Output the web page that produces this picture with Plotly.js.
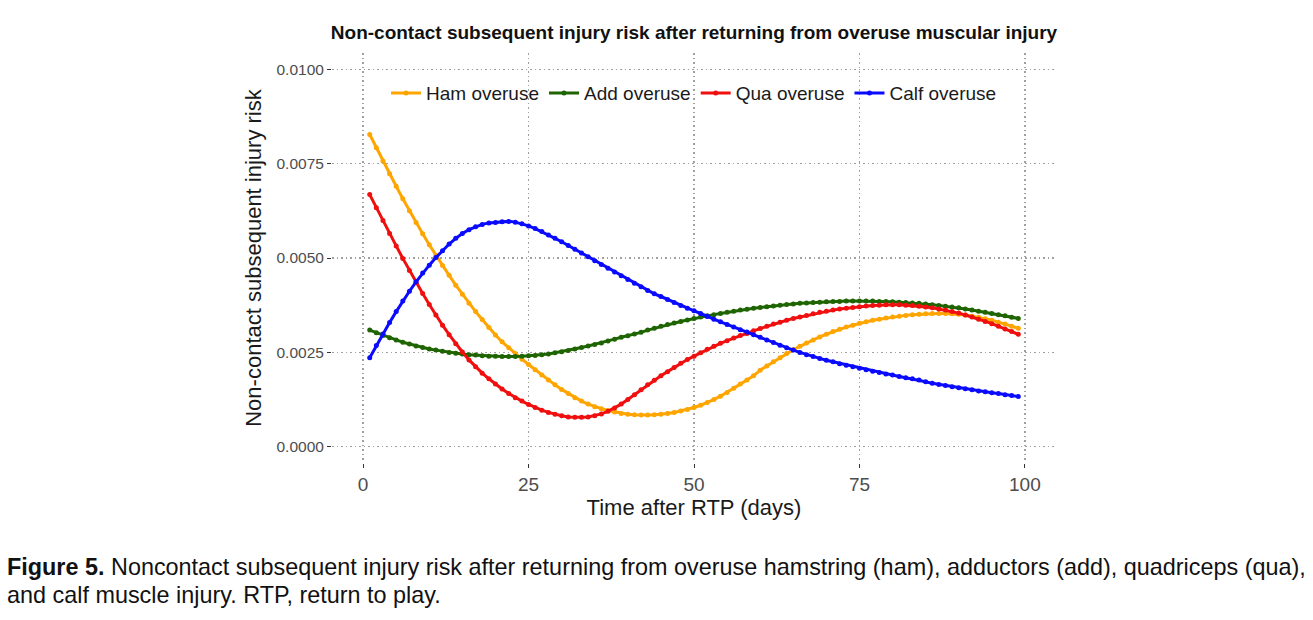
<!DOCTYPE html>
<html>
<head>
<meta charset="utf-8">
<script src="https://cdn.plot.ly/plotly-3.0.1.min.js"></script>
<style>
  html, body { margin: 0; padding: 0; background: #ffffff; }
  #chart { width: 1313px; height: 620px; }
</style>
</head>
<body>
<div id="chart"></div>
<script>
// days after return to play (1..99)
const days = [];
for (let d = 1; d <= 99; d++) { days.push(d); }

// values, one per day
const hamOveruse = [
  0.00827, 0.00792, 0.00757, 0.00723, 0.00690, 0.00657, 0.00625, 0.00594, 0.00564, 0.00535,
  0.00507, 0.00480, 0.00454, 0.00428, 0.00404, 0.00380, 0.00358, 0.00337, 0.00316, 0.00296,
  0.00278, 0.00262, 0.00247, 0.00232, 0.00218, 0.00204, 0.00190, 0.00177, 0.00164, 0.00152,
  0.00141, 0.00130, 0.00121, 0.00113, 0.00106, 0.00101, 0.00096, 0.00092, 0.00088, 0.00086,
  0.00085, 0.00084, 0.00084, 0.00085, 0.00086, 0.00088, 0.00091, 0.00095, 0.00099, 0.00104,
  0.00110, 0.00117, 0.00125, 0.00134, 0.00144, 0.00155, 0.00166, 0.00177, 0.00188, 0.00203,
  0.00214, 0.00225, 0.00236, 0.00247, 0.00257, 0.00266, 0.00275, 0.00283, 0.00291, 0.00298,
  0.00305, 0.00311, 0.00317, 0.00322, 0.00327, 0.00331, 0.00335, 0.00338, 0.00341, 0.00344,
  0.00346, 0.00348, 0.00350, 0.00351, 0.00352, 0.00353, 0.00353, 0.00353, 0.00352, 0.00351,
  0.00349, 0.00346, 0.00343, 0.00339, 0.00335, 0.00330, 0.00325, 0.00319, 0.00314
];

const addOveruse = [
  0.00309, 0.00302, 0.00295, 0.00289, 0.00283, 0.00277, 0.00272, 0.00267, 0.00263, 0.00259,
  0.00256, 0.00253, 0.00250, 0.00248, 0.00246, 0.00244, 0.00243, 0.00241, 0.00240, 0.00240,
  0.00239, 0.00239, 0.00239, 0.00240, 0.00241, 0.00242, 0.00244, 0.00246, 0.00249, 0.00252,
  0.00255, 0.00259, 0.00263, 0.00267, 0.00271, 0.00275, 0.00280, 0.00285, 0.00290, 0.00294,
  0.00299, 0.00303, 0.00309, 0.00314, 0.00319, 0.00324, 0.00328, 0.00332, 0.00336, 0.00340,
  0.00344, 0.00347, 0.00350, 0.00353, 0.00356, 0.00359, 0.00362, 0.00364, 0.00367, 0.00369,
  0.00371, 0.00373, 0.00375, 0.00377, 0.00378, 0.00380, 0.00381, 0.00382, 0.00383, 0.00384,
  0.00385, 0.00385, 0.00386, 0.00386, 0.00386, 0.00386, 0.00386, 0.00385, 0.00385, 0.00384,
  0.00383, 0.00382, 0.00381, 0.00380, 0.00378, 0.00376, 0.00374, 0.00372, 0.00370, 0.00368,
  0.00365, 0.00362, 0.00359, 0.00356, 0.00353, 0.00350, 0.00347, 0.00343, 0.00340
];

const quaOveruse = [
  0.00668, 0.00633, 0.00599, 0.00565, 0.00532, 0.00499, 0.00467, 0.00436, 0.00406, 0.00377,
  0.00349, 0.00322, 0.00297, 0.00273, 0.00251, 0.00230, 0.00212, 0.00195, 0.00180, 0.00166,
  0.00153, 0.00141, 0.00130, 0.00121, 0.00112, 0.00104, 0.00097, 0.00091, 0.00086, 0.00082,
  0.00079, 0.00078, 0.00078, 0.00079, 0.00082, 0.00087, 0.00094, 0.00103, 0.00113, 0.00125,
  0.00138, 0.00151, 0.00164, 0.00176, 0.00188, 0.00199, 0.00210, 0.00221, 0.00231, 0.00240,
  0.00249, 0.00258, 0.00266, 0.00274, 0.00281, 0.00288, 0.00295, 0.00300, 0.00307, 0.00313,
  0.00319, 0.00325, 0.00330, 0.00335, 0.00340, 0.00344, 0.00348, 0.00352, 0.00356, 0.00359,
  0.00362, 0.00365, 0.00367, 0.00369, 0.00371, 0.00373, 0.00374, 0.00375, 0.00376, 0.00376,
  0.00376, 0.00375, 0.00374, 0.00372, 0.00370, 0.00368, 0.00365, 0.00362, 0.00358, 0.00354,
  0.00349, 0.00344, 0.00338, 0.00332, 0.00326, 0.00319, 0.00312, 0.00305, 0.00298
];

const calfOveruse = [
  0.00236, 0.00268, 0.00299, 0.00329, 0.00358, 0.00386, 0.00412, 0.00437, 0.00460, 0.00481,
  0.00501, 0.00519, 0.00537, 0.00552, 0.00565, 0.00575, 0.00583, 0.00589, 0.00593, 0.00594,
  0.00596, 0.00597, 0.00595, 0.00591, 0.00585, 0.00578, 0.00570, 0.00561, 0.00552, 0.00543,
  0.00533, 0.00523, 0.00513, 0.00503, 0.00493, 0.00483, 0.00473, 0.00463, 0.00453, 0.00443,
  0.00433, 0.00424, 0.00414, 0.00405, 0.00398, 0.00390, 0.00382, 0.00374, 0.00367, 0.00360,
  0.00353, 0.00345, 0.00338, 0.00331, 0.00324, 0.00317, 0.00310, 0.00304, 0.00297, 0.00290,
  0.00283, 0.00276, 0.00269, 0.00262, 0.00256, 0.00250, 0.00244, 0.00239, 0.00234, 0.00229,
  0.00225, 0.00220, 0.00216, 0.00212, 0.00208, 0.00204, 0.00200, 0.00197, 0.00193, 0.00190,
  0.00186, 0.00183, 0.00180, 0.00177, 0.00172, 0.00168, 0.00165, 0.00162, 0.00159, 0.00156,
  0.00154, 0.00151, 0.00148, 0.00146, 0.00143, 0.00141, 0.00138, 0.00136, 0.00133
];

const seriesNames = ['Ham overuse', 'Add overuse', 'Qua overuse', 'Calf overuse'];
const seriesValues = [hamOveruse, addOveruse, quaOveruse, calfOveruse];
const seriesColors = ['#ffa500', '#1e6400', '#f00f0f', '#0a0aff'];

const xTicks = [0, 25, 50, 75, 100];
const yTicks = [0, 0.0025, 0.005, 0.0075, 0.01];
const yTickText = ['0.0000', '0.0025', '0.0050', '0.0075', '0.0100'];

const captionLines = [
  '<b>Figure 5.</b> Noncontact subsequent injury risk after returning from overuse hamstring (ham), adductors (add), quadriceps (qua),',
  'and calf muscle injury. RTP, return to play.'
];

const font = 'Liberation Sans, Arial, Helvetica, sans-serif';

let data = [];
for (let i = 0; i < seriesNames.length; i++) {
  data.push({
    x: days, y: seriesValues[i],
    mode: 'lines+markers', type: 'scatter', name: seriesNames[i],
    line: {color: seriesColors[i], width: 3},
    marker: {color: seriesColors[i], size: 5}
  });
}

const gridStyle = {
  showgrid: true, gridcolor: '#a0a0a0', gridwidth: 1.3, griddash: '1.5px,3px',
  zeroline: false, showline: false,
  ticks: 'outside', ticklen: 4, tickcolor: '#333333', tickwidth: 1
};

// caption lines sit below the plot, one annotation per line
const captionY = [-0.2537, -0.322];
let annotations = [];
for (let i = 0; i < captionLines.length; i++) {
  annotations.push({
    text: captionLines[i],
    xref: 'paper', yref: 'paper', x: -0.452, y: captionY[i],
    xanchor: 'left', yanchor: 'middle', align: 'left', showarrow: false,
    font: {family: font, size: 23.4, color: '#111111'}
  });
}

const layout = {
  width: 1313, height: 620,
  paper_bgcolor: '#ffffff', plot_bgcolor: '#ffffff',
  margin: {l: 332, r: 257, t: 53, b: 157},
  font: {family: font, color: '#1a1a1a'},
  title: {
    text: '<b>Non-contact subsequent injury risk after returning from overuse muscular injury</b>',
    font: {family: font, size: 19, color: '#111111'},
    x: 0.5, xref: 'paper', xanchor: 'center',
    y: 0.948, yref: 'container', yanchor: 'middle'
  },
  xaxis: Object.assign({}, gridStyle, {
    range: [-4.7, 104.7], tickvals: xTicks,
    tickfont: {family: font, size: 19, color: '#4d4d4d'},
    title: {text: 'Time after RTP (days)', font: {family: font, size: 22, color: '#1a1a1a'}, standoff: 4}
  }),
  yaxis: Object.assign({}, gridStyle, {
    range: [-0.00043, 0.01043], tickvals: yTicks, ticktext: yTickText,
    tickfont: {family: font, size: 15.5, color: '#4d4d4d'},
    title: {text: 'Non-contact subsequent injury risk', font: {family: font, size: 22, color: '#1a1a1a'}, standoff: 8}
  }),
  showlegend: true,
  legend: {
    orientation: 'h', x: 0.5, xanchor: 'center', y: 0.902, yanchor: 'middle',
    bgcolor: 'rgba(0,0,0,0)', font: {family: font, size: 19, color: '#1a1a1a'},
    itemwidth: 30, tracegroupgap: 0
  },
  annotations: annotations
};

Plotly.newPlot('chart', data, layout, {displayModeBar: false, staticPlot: true});
</script>
</body>
</html>
